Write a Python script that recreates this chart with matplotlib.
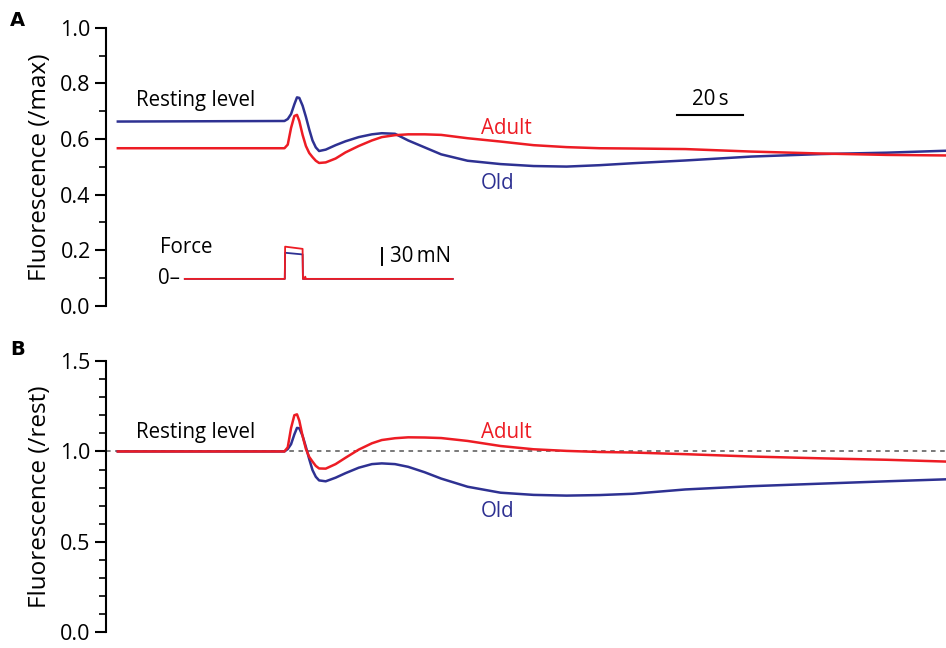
import matplotlib.pyplot as plt
from matplotlib.ticker import MultipleLocator

# Tempo (s) dos pontos
tempo = [0, 50.5, 51.5, 52.5, 53.5, 54.3, 55, 56, 57, 58, 59, 60, 61, 63, 66, 69, 73, 77, 80,
         84, 88, 93, 98, 106, 116, 126, 136, 146, 156, 172, 192, 213, 233, 251]

# Painel A: fluorescencia normalizada pelo maximo
adulto_max = [0.567, 0.567, 0.58, 0.64, 0.683, 0.687, 0.665, 0.615, 0.575, 0.55, 0.535, 0.522,
              0.514, 0.516, 0.53, 0.552, 0.575, 0.595, 0.607, 0.614, 0.617, 0.617, 0.615, 0.603,
              0.591, 0.578, 0.571, 0.567, 0.566, 0.564, 0.555, 0.548, 0.543, 0.541]
velho_max = [0.663, 0.665, 0.672, 0.69, 0.725, 0.75, 0.748, 0.72, 0.68, 0.635, 0.595, 0.57,
             0.557, 0.562, 0.578, 0.592, 0.607, 0.617, 0.621, 0.619, 0.595, 0.57, 0.545, 0.522,
             0.51, 0.503, 0.501, 0.506, 0.513, 0.523, 0.537, 0.546, 0.551, 0.558]

# Painel B: fluorescencia normalizada pelo repouso
adulto_rest = [1.0, 1.0, 1.023, 1.129, 1.2, 1.205, 1.17, 1.085, 1.014, 0.97, 0.944, 0.92, 0.906,
               0.905, 0.93, 0.965, 1.01, 1.045, 1.063, 1.073, 1.078, 1.077, 1.074, 1.058, 1.03,
               1.012, 1.003, 0.997, 0.994, 0.985, 0.972, 0.962, 0.954, 0.944]
velho_rest = [1.0, 1.0, 1.013, 1.04, 1.094, 1.13, 1.128, 1.086, 1.025, 0.958, 0.897, 0.86, 0.84,
              0.835, 0.855, 0.88, 0.91, 0.93, 0.934, 0.93, 0.915, 0.885, 0.85, 0.805, 0.772,
              0.76, 0.756, 0.759, 0.766, 0.79, 0.808, 0.822, 0.835, 0.846]

# Forca (mN)
tempo_forca = [20.3, 50.6, 50.7, 56.0, 56.1, 56.6, 56.8, 57.0, 101.5]
forca_adulto = [0, 0, 58, 54, 0, 0, 4, 0, 0]
forca_velho = [0, 0, 47, 44, 0, 0, 0, 0, 0]

vermelho = '#ed1c24'
azul = '#2e3192'
fonte = 'Open Sans'
plt.rcParams['font.family'] = [fonte, 'DejaVu Sans']

fig = plt.figure(figsize=(9.46, 6.48), dpi=100)
axA = fig.add_axes([0.112, 0.528, 0.888, 0.429])
axB = fig.add_axes([0.112, 0.024, 0.888, 0.419])

for ax in (axA, axB):
    for lado in ('top', 'right', 'bottom'):
        ax.spines[lado].set_visible(False)
    ax.spines['left'].set_linewidth(1.5)
    ax.set_xlim(-3.6, 251)
    ax.set_xticks([])
    ax.tick_params(axis='y', which='major', length=8, width=1.5, labelsize=15.5, pad=3)
    ax.tick_params(axis='y', which='minor', length=5, width=1.2)

# Painel A
axA.plot(tempo, velho_max, color=azul, lw=1.8)
axA.plot(tempo, adulto_max, color=vermelho, lw=1.8)
escala = 0.002  # unidades do eixo por mN
base = 0.097
axA.plot(tempo_forca, [base + f * escala for f in forca_velho], color=azul, lw=1.3)
axA.plot(tempo_forca, [base + f * escala for f in forca_adulto], color=vermelho, lw=1.3)
axA.set_ylim(0, 1.0)
axA.yaxis.set_major_locator(MultipleLocator(0.2))
axA.yaxis.set_minor_locator(MultipleLocator(0.1))
axA.yaxis.set_major_formatter(lambda v, p: f'{v:.1f}')
axA.set_ylabel('Fluorescence (/max)', fontsize=17.5, labelpad=6)

axA.text(5.5, 0.737, 'Resting level', fontsize=14.8, va='center')
axA.text(110, 0.637, 'Adult', fontsize=14.8, color=vermelho, va='center')
axA.text(110, 0.439, 'Old', fontsize=14.8, color=azul, va='center')
axA.text(12.7, 0.21, 'Force', fontsize=14.8, va='center')
axA.text(12.2, base, '0–', fontsize=14.8, va='center')
axA.plot([169.4, 189.4], [0.687, 0.687], color='black', lw=1.5)
axA.text(179.4, 0.705, '20\u2009s', fontsize=14.8, ha='center', va='bottom')
axA.plot([80, 80], [0.147, 0.147 + 30 * escala], color='black', lw=1.4)
axA.text(82.5, 0.177, '30\u2009mN', fontsize=14.8, va='center')
fig.text(0.011, 0.969, 'A', fontsize=14, fontweight='bold', va='center', family='DejaVu Sans')

# Painel B
axB.axhline(1.0, color='#555555', lw=1.1, ls=(0, (3, 3)), zorder=0)
axB.plot(tempo, velho_rest, color=azul, lw=1.8)
axB.plot(tempo, adulto_rest, color=vermelho, lw=1.8)
axB.set_ylim(0, 1.5)
axB.yaxis.set_major_locator(MultipleLocator(0.5))
axB.yaxis.set_minor_locator(MultipleLocator(0.1))
axB.yaxis.set_major_formatter(lambda v, p: f'{v:.1f}')
axB.set_ylabel('Fluorescence (/rest)', fontsize=17.5, labelpad=6)

axB.text(5.5, 1.106, 'Resting level', fontsize=14.8, va='center')
axB.text(110, 1.106, 'Adult', fontsize=14.8, color=vermelho, va='center')
axB.text(110, 0.67, 'Old', fontsize=14.8, color=azul, va='center')
fig.text(0.011, 0.46, 'B', fontsize=14, fontweight='bold', va='center', family='DejaVu Sans')

fig.savefig('out.png', dpi=100)
